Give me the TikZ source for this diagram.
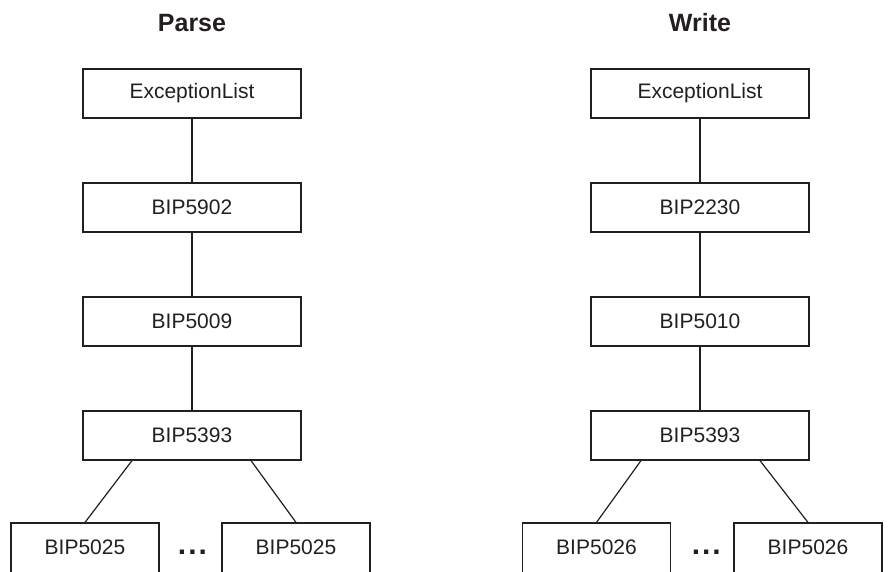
\documentclass[tikz,border=0pt]{standalone}
\usepackage{fontspec}
\setmainfont{Liberation Sans}
\usepackage{tikz}
\usetikzlibrary{calc, positioning}
\definecolor{InkDark}{HTML}{231F20}

\begin{document}
\begin{tikzpicture}[
  x=1pt, y=1pt,
  node distance=63.8pt,
  exc/.style={rectangle, draw=InkDark, line width=1.2pt, minimum width=218pt, minimum height=49pt, inner sep=0pt, align=center, font=\fontsize{21}{25}\selectfont\color{InkDark}},
  leaf/.style={exc, minimum width=148pt, minimum height=52pt, text height=15pt, text depth=5pt},
  title/.style={anchor=base, font=\fontsize{25}{30}\selectfont\bfseries\color{InkDark}},
  dots/.style={anchor=base, font=\fontsize{30}{34}\selectfont\bfseries\color{InkDark}},
  link/.style={line width=1.2pt, InkDark}
]
  \useasboundingbox (0,0) rectangle (889,-571);

  % Parse side
  \node[title] (ptitle) at (192,-31.5) {Parse};
  \node[exc] (ptop) at (192,-93.5) {ExceptionList};
  \node[exc, below=of ptop] (p5902) {BIP5902};
  \node[exc, below=of p5902] (p5009) {BIP5009};
  \node[exc, below=of p5009] (p5393) {BIP5393};
  \node[leaf, below=61.8pt of p5393, xshift=-107pt] (pleafa) {BIP5025};
  \node[leaf, below=61.8pt of p5393, xshift=104pt] (pleafb) {BIP5025};
  \node[dots] (pdots) at ($(pleafa.base)!0.5!(pleafb.base)+(2,0)$) {.\kern2pt.\kern2pt.};

  \draw[link] (ptop) -- (p5902);
  \draw[link] (p5902) -- (p5009);
  \draw[link] (p5009) -- (p5393);
  \draw[link] ([xshift=-60pt]p5393.south) -- (pleafa.north);
  \draw[link] ([xshift=59pt]p5393.south) -- (pleafb.north);

  % Write side
  \node[title] (wtitle) at (700,-31.5) {Write};
  \node[exc] (wtop) at (700,-93.5) {ExceptionList};
  \node[exc, below=of wtop] (w2230) {BIP2230};
  \node[exc, below=of w2230] (w5010) {BIP5010};
  \node[exc, below=of w5010] (w5393) {BIP5393};
  \node[leaf, below=61.8pt of w5393, xshift=-103.5pt] (wleafa) {BIP5026};
  \node[leaf, below=61.8pt of w5393, xshift=108pt] (wleafb) {BIP5026};
  \node[dots] (wdots) at ($(wleafa.base)!0.5!(wleafb.base)+(4,0)$) {.\kern2pt.\kern2pt.};

  \draw[link] (wtop) -- (w2230);
  \draw[link] (w2230) -- (w5010);
  \draw[link] (w5010) -- (w5393);
  \draw[link] ([xshift=-59pt]w5393.south) -- (wleafa.north);
  \draw[link] ([xshift=60pt]w5393.south) -- (wleafb.north);
\end{tikzpicture}
\end{document}
